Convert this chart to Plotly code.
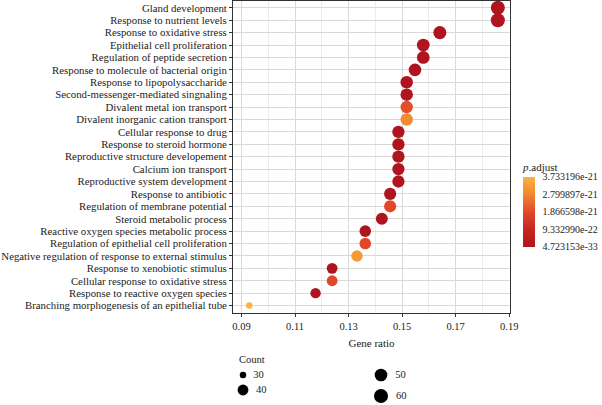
import numpy as np
import plotly.graph_objects as go

# ---------------- data ----------------
terms = [
    "Gland development",
    "Response to nutrient levels",
    "Response to oxidative stress",
    "Epithelial cell proliferation",
    "Regulation of peptide secretion",
    "Response to molecule of bacterial origin",
    "Response to lipopolysaccharide",
    "Second-messenger-mediated singnaling",
    "Divalent metal ion transport",
    "Divalent inorganic cation transport",
    "Cellular response to drug",
    "Response to steroid hormone",
    "Reproductive structure developement",
    "Calcium ion transport",
    "Reproductive system development",
    "Response to antibiotic",
    "Regulation of membrane potential",
    "Steroid metabolic process",
    "Reactive oxygen species metabolic process",
    "Regulation of epithelial cell proliferation",
    "Negative regulation of response to external stimulus",
    "Response to xenobiotic stimulus",
    "Cellular response to oxidative stress",
    "Response to reactive oxygen species",
    "Branching morphogenesis of an epithelial tube",
]
counts = [60, 60, 53, 51, 51, 50, 49, 49, 49, 49, 48, 48, 48, 48, 48,
          47, 47, 46, 44, 44, 43, 40, 40, 38, 30]
total_genes = 323
gene_ratio = [c / total_genes for c in counts]
p_adjust = [4.723153e-33, 2.0e-31, 5.0e-29, 1.0e-24, 2.0e-24, 3.0e-25, 4.0e-26, 6.0e-26,
            1.95e-21, 2.9e-21, 1.0e-25, 2.0e-25, 3.0e-25, 4.0e-25, 5.0e-25,
            6.0e-24, 1.85e-21, 8.0e-24, 9.0e-24, 1.85e-21, 3.2e-21, 1.0e-23,
            1.85e-21, 2.0e-23, 3.733196e-21]

cbar_vals = [3.733196e-21, 2.799897e-21, 1.866598e-21, 9.332990e-22, 4.723153e-33]
cbar_text = ["3.733196e-21", "2.799897e-21", "1.866598e-21", "9.332990e-22", "4.723153e-33"]
legend_counts = [30, 40, 50, 60]
x_ticks = [0.09, 0.11, 0.13, 0.15, 0.17, 0.19]

# ---------------- styling helpers ----------------
CMIN, CMAX = min(cbar_vals), max(cbar_vals)
CNT_MIN, CNT_MAX = 30, 60
D_MIN, D_MAX = 6.5, 14.0


def size_of(c):
    return D_MIN + (D_MAX - D_MIN) * np.sqrt((c - CNT_MIN) / (CNT_MAX - CNT_MIN))


colorscale = [[0.0, "#B0141F"], [0.25, "#C5261F"], [0.5, "#E04A28"],
              [0.75, "#F2862E"], [1.0, "#F9B243"]]
FONT = "'Liberation Serif', 'DejaVu Serif', serif"
TXT = "#222222"

fig = go.Figure()
fig.add_trace(go.Scatter(
    x=gene_ratio, y=terms, mode="markers",
    marker=dict(size=[size_of(c) for c in counts], color=p_adjust,
                colorscale=colorscale, cmin=CMIN, cmax=CMAX, line=dict(width=0),
                opacity=1,
                colorbar=dict(
                    title=dict(text="<i>p</i>.adjust", side="top",
                               font=dict(family=FONT, size=11, color=TXT)),
                    x=(523 - 200) / 310, xanchor="left", xpad=0,
                    y=(401 - 203) / 400, yanchor="middle", ypad=0,
                    len=87, lenmode="pixels", thickness=12,
                    outlinewidth=0, tickvals=cbar_vals, ticktext=cbar_text,
                    ticks="outside", ticklen=6, tickcolor="rgba(0,0,0,0)",
                    ticklabeloverflow="allow",
                    tickfont=dict(family=FONT, size=10, color=TXT),
                )),
    showlegend=False, hoverinfo="x+y",
))

# size legend drawn on its own small axis
leg_x = [243, 243, 381, 381]
leg_y = [375, 390, 375, 396]
fig.add_trace(go.Scatter(
    x=leg_x, y=leg_y, mode="markers+text",
    text=[f"  {c}" for c in legend_counts], textposition="middle right",
    textfont=dict(family=FONT, size=10.5, color=TXT),
    marker=dict(size=[size_of(c) for c in legend_counts], color="black",
                line=dict(width=0), opacity=1),
    xaxis="x2", yaxis="y2", showlegend=False, hoverinfo="skip", cliponaxis=False,
))

L, R, T, B = 200, 92, 1, 4
fig.update_layout(
    width=602, height=405,
    margin=dict(l=L, r=R, t=T, b=B, autoexpand=False),
    paper_bgcolor="white", plot_bgcolor="white",
    font=dict(family=FONT, color=TXT),
    xaxis=dict(
        domain=[(233 - 200) / 310, 1.0], range=[0.0868, 0.1903],
        tickvals=x_ticks, ticktext=[f"{v:.2f}" for v in x_ticks],
        tickfont=dict(family=FONT, size=10.5, color=TXT),
        showgrid=True, gridcolor="#D9D9D9", gridwidth=1,
        minor=dict(tickvals=[0.10, 0.12, 0.14, 0.16, 0.18], showgrid=True,
                   gridcolor="#EDEDED", gridwidth=1, ticks=""),
        zeroline=False, showline=True, mirror=True, linecolor="#333333", linewidth=1,
        ticks="outside", ticklen=3, tickcolor="#333333",
        title=dict(text="Gene ratio", font=dict(family=FONT, size=11, color=TXT), standoff=8),
        anchor="y",
    ),
    yaxis=dict(
        domain=[(401 - 313) / 400, 1.0],
        categoryorder="array", categoryarray=terms[::-1],
        tickmode="array", tickvals=terms,
        range=[-0.6, len(terms) - 0.45],
        tickfont=dict(family=FONT, size=10.8, color=TXT),
        showgrid=True, gridcolor="#D9D9D9", gridwidth=1,
        zeroline=False, showline=True, mirror=True, linecolor="#333333", linewidth=1,
        ticks="outside", ticklen=3, tickcolor="#333333",
        anchor="x",
    ),
    xaxis2=dict(domain=[0, (420 - 200) / 310], range=[200, 420], visible=False,
                fixedrange=True, anchor="y2"),
    yaxis2=dict(domain=[0, (401 - 352) / 400], range=[401, 352], visible=False,
                fixedrange=True, anchor="x2"),
    annotations=[dict(text="Count", x=237, y=359, xref="x2", yref="y2",
                      xanchor="left", yanchor="middle", showarrow=False,
                      font=dict(family=FONT, size=10.5, color=TXT))],
)

fig.write_html("out.html", config={"displayModeBar": False},
               post_script="document.body.style.margin='0';document.body.style.overflow='hidden';")
